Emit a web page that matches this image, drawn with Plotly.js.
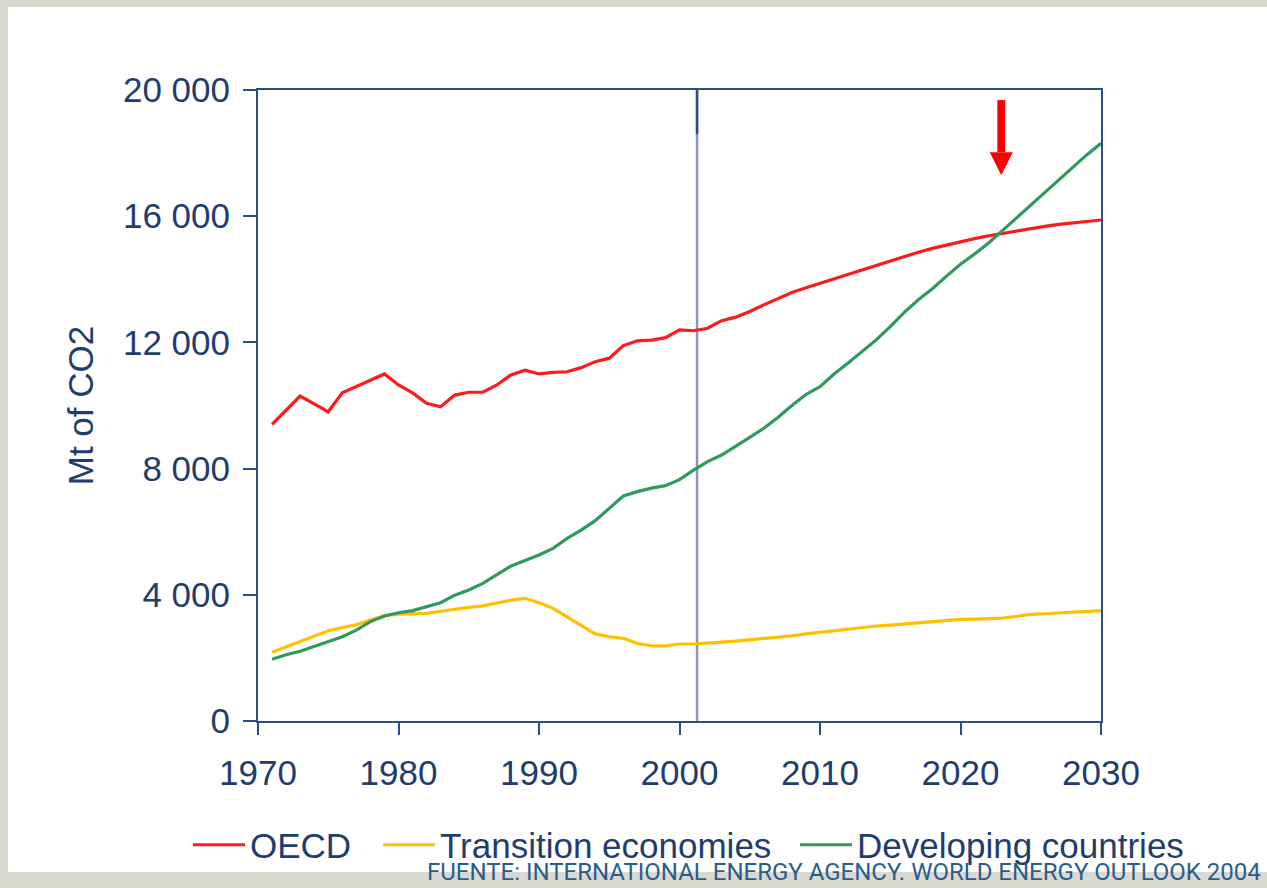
<!DOCTYPE html>
<html>
<head>
<meta charset="utf-8">
<script src="https://cdn.plot.ly/plotly-3.0.1.min.js"></script>
<style>
html,body{margin:0;padding:0;background:#d9d9d1;}
#chart{width:1267px;height:888px;}
</style>
</head>
<body>
<div id="chart"></div>
<script>
const years = [];
for (let y = 1971; y <= 2030; y++) years.push(y);

const oecd = [9400,9850,10300,10050,9800,10400,10600,10800,11000,10650,
  10400,10070,9960,10330,10420,10420,10650,10970,11120,11000,
  11050,11070,11200,11390,11500,11900,12050,12070,12150,12400,
  12370,12450,12690,12800,12980,13190,13380,13580,13730,13870,
  14020,14160,14310,14450,14580,14720,14860,14980,15090,15200,
  15290,15380,15460,15540,15620,15680,15740,15790,15830,15880];

const transition = [2180,2350,2510,2680,2860,2960,3050,3200,3340,3390,
  3400,3410,3480,3550,3600,3650,3750,3830,3890,3750,
  3570,3300,3040,2760,2670,2620,2460,2380,2380,2440,
  2440,2460,2500,2530,2570,2620,2660,2700,2760,2810,
  2870,2920,2970,3010,3040,3080,3120,3160,3200,3220,
  3230,3240,3260,3320,3380,3400,3420,3440,3470,3500];

const developing = [1960,2100,2210,2370,2510,2670,2880,3150,3330,3430,
  3500,3620,3750,3990,4150,4360,4630,4910,5090,5260,
  5470,5790,6050,6350,6740,7130,7270,7380,7460,7650,
  7950,8220,8430,8700,8990,9280,9620,10000,10350,10600,
  11000,11350,11720,12080,12500,12950,13350,13700,14100,14480,
  14800,15150,15550,15950,16350,16750,17150,17550,17950,18310];

const seriesNames = ["OECD", "Transition economies", "Developing countries"];
const seriesColors = ["#ff1a1a", "#ffc000", "#2e9a5e"];
const yTickVals = [0, 4000, 8000, 12000, 16000, 20000];
const yTickText = ["0", "4 000", "8 000", "12 000", "16 000", "20 000"];
const xTickVals = [1970, 1980, 1990, 2000, 2010, 2020, 2030];
const baseLineX = 2001.25;
const yTitle = "Mt of CO2";
const sourceText = "FUENTE: INTERNATIONAL ENERGY AGENCY. WORLD ENERGY OUTLOOK 2004";
// arrow marker (annotation), in data units
const arrowX = 2022.9, arrowTop = 19680, arrowNeck = 18030, arrowTip = 17300;

const navy = "#1f3d6e";
const axisCol = "#2b5088";
const FS = 35;

const legendIds = ["legend", "legend2", "legend3"];
const traces = [oecd, transition, developing].map((vals, i) => ({
  x: years, y: vals, type: "scatter", mode: "lines",
  name: seriesNames[i], legend: legendIds[i],
  line: {color: seriesColors[i], width: 3.2}
}));

const L = 258, T = 90, W = 843, H = 631;
const px = v => (v - L) / W;
const py = v => (T + H - v) / H;

const legendStarts = [193, 383, 800];
function mkLegend(start) {
  return {
    orientation: "h", x: px(start - 5), xanchor: "left", y: py(845), yanchor: "middle",
    font: {size: FS, color: navy}, bgcolor: "rgba(0,0,0,0)", itemwidth: 52
  };
}

const layout = {
  width: 1267, height: 888,
  margin: {l: L, r: 1267 - L - W, t: T, b: 888 - T - H},
  paper_bgcolor: "#d9d9d1",
  plot_bgcolor: "rgba(0,0,0,0)",
  font: {family: "Liberation Sans, Arial, sans-serif", color: navy, size: FS},
  showlegend: true,
  legend: mkLegend(legendStarts[0]),
  legend2: mkLegend(legendStarts[1]),
  legend3: mkLegend(legendStarts[2]),
  xaxis: {
    range: [1970, 2030], tickvals: xTickVals, ticktext: xTickVals.map(String),
    showgrid: false, zeroline: false, showline: true, mirror: true,
    linecolor: axisCol, linewidth: 2,
    ticks: "outside", ticklen: 12, tickwidth: 2, tickcolor: axisCol,
    tickfont: {size: FS, color: navy}, ticklabelstandoff: 8
  },
  yaxis: {
    range: [0, 20000], tickvals: yTickVals, ticktext: yTickText,
    showgrid: false, zeroline: false, showline: true, mirror: true,
    linecolor: axisCol, linewidth: 2,
    ticks: "outside", ticklen: 13, tickwidth: 2, tickcolor: axisCol,
    tickfont: {size: FS, color: navy}, ticklabelstandoff: 6,
    title: {text: yTitle, font: {size: FS, color: navy}, standoff: 19}
  },
  shapes: [
    {type: "rect", xref: "paper", yref: "paper", x0: px(8), x1: px(1267), y0: py(872), y1: py(7),
     fillcolor: "#ffffff", line: {width: 0}, layer: "below"},
    {type: "line", xref: "x", yref: "paper", x0: baseLineX, x1: baseLineX, y0: 0, y1: 1,
     line: {color: "#8e95b5", width: 2.5}, layer: "below"},
    {type: "line", xref: "x", yref: "y", x0: baseLineX, x1: baseLineX, y0: 18600, y1: 20000,
     line: {color: axisCol, width: 2.5}},
    {type: "rect", xref: "x", yref: "y", x0: arrowX - 0.28, x1: arrowX + 0.28, y0: arrowNeck, y1: arrowTop,
     fillcolor: "#ff0000", line: {width: 0}},
    {type: "path", xref: "x", yref: "y",
     path: `M ${arrowX - 0.82},${arrowNeck} L ${arrowX + 0.82},${arrowNeck} L ${arrowX},${arrowTip} Z`,
     fillcolor: "#ff0000", line: {width: 0}}
  ],
  annotations: [
    {text: sourceText, xref: "paper", yref: "paper", x: px(1263), xanchor: "right",
     y: py(888), yanchor: "bottom", showarrow: false,
     font: {family: "Roboto, sans-serif", size: 24, color: "#2a5d8c"}}
  ]
};

Plotly.newPlot("chart", traces, layout, {displayModeBar: false, staticPlot: true});
</script>
</body>
</html>
